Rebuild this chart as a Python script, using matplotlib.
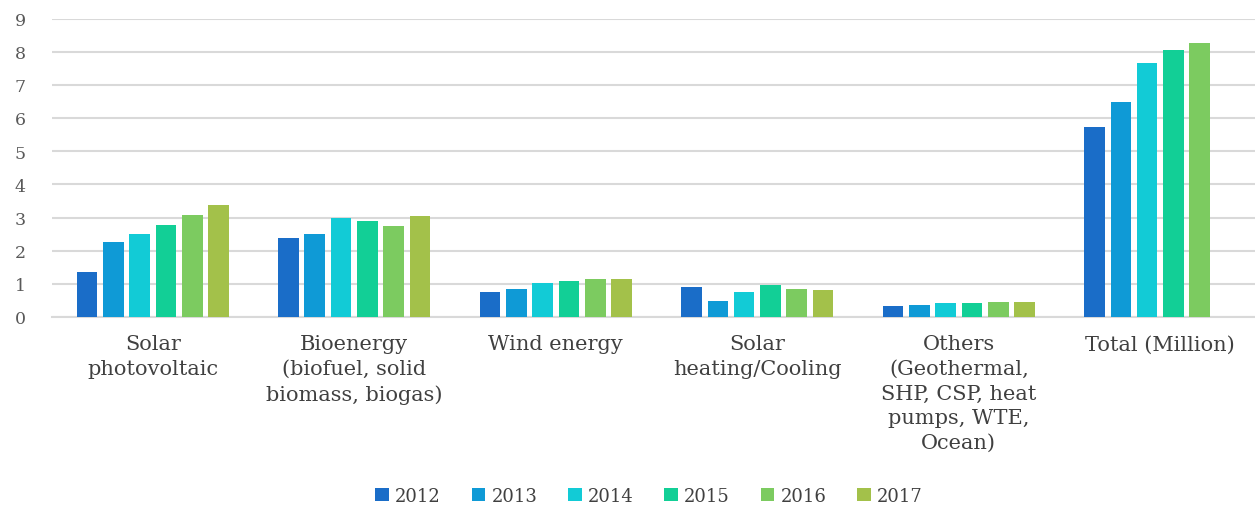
import matplotlib
matplotlib.use("Agg")
import matplotlib.pyplot as plt
import numpy as np

categories = ["Solar\nphotovoltaic", "Bioenergy\n(biofuel, solid\nbiomass, biogas)", "Wind energy",
              "Solar\nheating/Cooling", "Others\n(Geothermal,\nSHP, CSP, heat\npumps, WTE,\nOcean)",
              "Total (Million)"]
years = ["2012", "2013", "2014", "2015", "2016", "2017"]
v2012 = [1.35, 2.39, 0.74, 0.89, 0.32, 5.73]
v2013 = [2.27, 2.50, 0.83, 0.49, 0.37, 6.48]
v2014 = [2.50, 3.00, 1.03, 0.75, 0.41, 7.67]
v2015 = [2.76, 2.88, 1.09, 0.95, 0.41, 8.06]
v2016 = [3.07, 2.73, 1.15, 0.83, 0.46, 8.26]
v2017 = [3.37, 3.05, 1.15, 0.80, 0.46, np.nan]
series = [v2012, v2013, v2014, v2015, v2016, v2017]
colors = ["#1a6dc8", "#0f9ad6", "#12cbd6", "#12cf96", "#7ccb60", "#a3c14a"]
yticks = [0, 1, 2, 3, 4, 5, 6, 7, 8, 9]

plt.rcParams['font.family'] = ['DejaVu Serif']

fig = plt.figure(figsize=(12.55, 5.06), dpi=100)
ax = fig.add_axes([52/1255, 1-318/506, 1-52/1255, (318-19.5)/506])

x = np.arange(len(categories))
slot = 0.1305
bw = slot * 0.785
for i, (vals, c, yr) in enumerate(zip(series, colors, years)):
    ax.bar(x + (i - 2.5) * slot, vals, width=bw, color=c, label=yr, zorder=3)

ax.set_ylim(0, 9)
ax.set_xlim(-0.5, 5.47)
ax.set_yticks(yticks)
ax.set_yticklabels([str(t) for t in yticks], fontsize=12.5, color="#595959")
for lab in ax.get_yticklabels():
    lab.set_horizontalalignment("center")
ax.yaxis.grid(True, color="#d9d9d9", linewidth=1.5, zorder=0)
ax.set_axisbelow(True)
for s in ["top", "right", "left"]:
    ax.spines[s].set_visible(False)
ax.spines["bottom"].set_color("#d9d9d9")
ax.spines["bottom"].set_linewidth(1.5)
ax.tick_params(axis="y", length=0, pad=23)
ax.tick_params(axis="x", length=0, pad=12.5)
ax.set_xticks(x)
ax.set_xticklabels(categories, fontsize=15, color="#404040", linespacing=1.38)

leg = fig.legend(loc="center", bbox_to_anchor=(649/1255, 1-497/506), ncol=6, frameon=False,
                 fontsize=13, handlelength=0.75, handleheight=0.75, handletextpad=0.35,
                 columnspacing=1.7, labelcolor="#404040")

fig.savefig("out.png", dpi=100)
